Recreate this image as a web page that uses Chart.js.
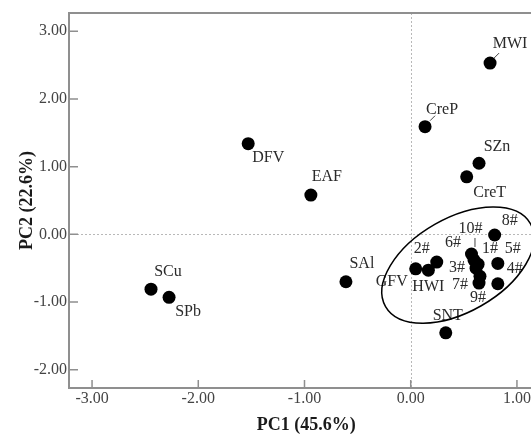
<!DOCTYPE html>
<html><head><meta charset="utf-8">
<script src="https://cdn.jsdelivr.net/npm/chart.js@4/dist/chart.umd.min.js"></script>
<style>
html,body{margin:0;padding:0;background:#fff;overflow:hidden;width:531px;height:434px}
#wrap{width:560px;height:434px;position:relative}
</style></head>
<body><div id="wrap"><canvas id="c" width="560" height="434"></canvas></div>
<script>
// ---- data ----
const names = ['DFV','EAF','SCu','SPb','MWI','CreP','SZn','CreT','SAl','SNT','GFV','HWI','2#','10#','6#','1#','3#','9#','7#','5#','4#','8#'];
const pc1 = [-1.53,-0.94,-2.445,-2.275,0.747,0.135,0.643,0.527,-0.61,0.33,0.047,0.166,0.245,0.572,0.596,0.634,0.615,0.652,0.643,0.82,0.82,0.79];
const pc2 = [1.34,0.58,-0.81,-0.93,2.53,1.59,1.05,0.85,-0.70,-1.455,-0.51,-0.53,-0.41,-0.29,-0.38,-0.44,-0.50,-0.62,-0.72,-0.43,-0.73,-0.01];
const xTicks = [-3,-2,-1,0,1];
const yTicks = [-2,-1,0,1,2,3];
const xTitle = 'PC1 (45.6%)';
const yTitle = 'PC2 (22.6%)';
// group ellipse (data units): centre and two semi-axis vectors
const ellipseCenter = [0.445,-0.454];
const ellipseAxisA = [0.682,0.613];
const ellipseAxisB = [0.219,-0.601];

// ---- style ----
const labelOffsets = {
  'DFV':[20,14],'EAF':[16,-18],'SCu':[17,-17],'SPb':[19,15],'MWI':[20,-19],'CreP':[17,-17],
  'SZn':[18,-16],'CreT':[23,16],'SAl':[16,-18],'SNT':[2,-17],'GFV':[-24,13],'HWI':[0,17],
  '2#':[-15,-13],'10#':[-1,-25],'6#':[-21,-17],'1#':[12,-15],'3#':[-19,0],'9#':[-2,21],
  '7#':[-19,2],'5#':[15,-15],'4#':[17,-15],'8#':[15,-14]
};
const leaders = {'MWI':[4,-5,9,-10],'CreP':[5,-6,10,-11],'10#':[3.5,-16,3.5,-7]};
const SERIF = '"Liberation Serif","Times New Roman",serif';

const points = pc1.map((v,i)=>({x:v,y:pc2[i]}));

const deco = {
  id:'deco',
  beforeDatasetsDraw(chart){
    const {ctx, chartArea:a, scales:{x,y}} = chart;
    ctx.save();
    const x0 = x.getPixelForValue(0), y0 = y.getPixelForValue(0);
    ctx.strokeStyle = '#b8b8b8'; ctx.lineWidth = 1; ctx.setLineDash([2,2]);
    ctx.beginPath();
    ctx.moveTo(Math.round(x0)+0.5,a.top); ctx.lineTo(Math.round(x0)+0.5,a.bottom);
    ctx.moveTo(a.left,Math.round(y0)+0.5); ctx.lineTo(a.right,Math.round(y0)+0.5);
    ctx.stroke();
    ctx.setLineDash([]);
    ctx.strokeStyle = '#8f8f8f'; ctx.lineWidth = 2;
    ctx.strokeRect(a.left,a.top,a.right-a.left,a.bottom-a.top);
    ctx.lineWidth = 1.5;
    ctx.beginPath();
    x.ticks.forEach(t=>{const p=x.getPixelForValue(t.value); ctx.moveTo(p,a.bottom); ctx.lineTo(p,a.bottom-8);});
    y.ticks.forEach(t=>{const p=y.getPixelForValue(t.value); ctx.moveTo(a.left,p); ctx.lineTo(a.left+9,p);});
    ctx.stroke();
    // point labels
    const meta = chart.getDatasetMeta(0);
    ctx.font = '16px ' + SERIF; ctx.fillStyle = '#2a2a2a';
    ctx.textAlign = 'center'; ctx.textBaseline = 'middle';
    ctx.strokeStyle = '#444'; ctx.lineWidth = 1;
    meta.data.forEach((pt,i)=>{
      const n = names[i], o = labelOffsets[n];
      ctx.fillText(n, pt.x+o[0], pt.y+o[1]);
      const l = leaders[n];
      if (l){ ctx.beginPath(); ctx.moveTo(pt.x+l[0],pt.y+l[1]); ctx.lineTo(pt.x+l[2],pt.y+l[3]); ctx.stroke(); }
    });
    ctx.restore();
  },
  afterDatasetsDraw(chart){
    const {ctx, scales:{x,y}} = chart;
    const cx = x.getPixelForValue(ellipseCenter[0]), cy = y.getPixelForValue(ellipseCenter[1]);
    const ax = x.getPixelForValue(ellipseCenter[0]+ellipseAxisA[0])-cx, ay = y.getPixelForValue(ellipseCenter[1]+ellipseAxisA[1])-cy;
    const bx = x.getPixelForValue(ellipseCenter[0]+ellipseAxisB[0])-cx, by = y.getPixelForValue(ellipseCenter[1]+ellipseAxisB[1])-cy;
    ctx.save();
    ctx.beginPath();
    ctx.save();
    ctx.transform(ax,ay,bx,by,cx,cy);
    ctx.arc(0,0,1,0,Math.PI*2);
    ctx.restore();
    ctx.strokeStyle = '#000'; ctx.lineWidth = 1.5; ctx.stroke();
    ctx.restore();
  }
};

new Chart(document.getElementById('c'), {
  type:'scatter',
  data:{datasets:[{data:points, backgroundColor:'#000', borderWidth:0, pointRadius:6.5, pointHoverRadius:6.5}]},
  options:{
    responsive:false, animation:false, devicePixelRatio:1,
    layout:{padding:{left:0,top:13,right:16.5,bottom:0}},
    plugins:{legend:{display:false}, tooltip:{enabled:false}},
    scales:{
      x:{
        type:'linear', min:-3.217, max:1.25,
        afterBuildTicks:s=>{s.ticks = xTicks.map(v=>({value:v}));},
        afterFit:s=>{s.height = 46;},
        grid:{display:false, drawTicks:false}, border:{display:false},
        ticks:{padding:1, color:'#444', font:{family:SERIF,size:16}, callback:v=>Number(v).toFixed(2), maxRotation:0},
        title:{display:true, text:xTitle, color:'#1a1a1a', padding:0, font:{family:SERIF,size:18,weight:'bold',lineHeight:1}}
      },
      y:{
        type:'linear', min:-2.27, max:3.27,
        afterBuildTicks:s=>{s.ticks = yTicks.map(v=>({value:v}));},
        afterFit:s=>{s.width = 69;},
        grid:{display:false, drawTicks:false}, border:{display:false},
        ticks:{padding:2, color:'#444', font:{family:SERIF,size:16}, callback:v=>Number(v).toFixed(2)},
        title:{display:true, text:yTitle, color:'#1a1a1a', padding:{top:18,bottom:0}, font:{family:SERIF,size:18,weight:'bold',lineHeight:1}}
      }
    }
  },
  plugins:[deco]
});
</script>
</body></html>
